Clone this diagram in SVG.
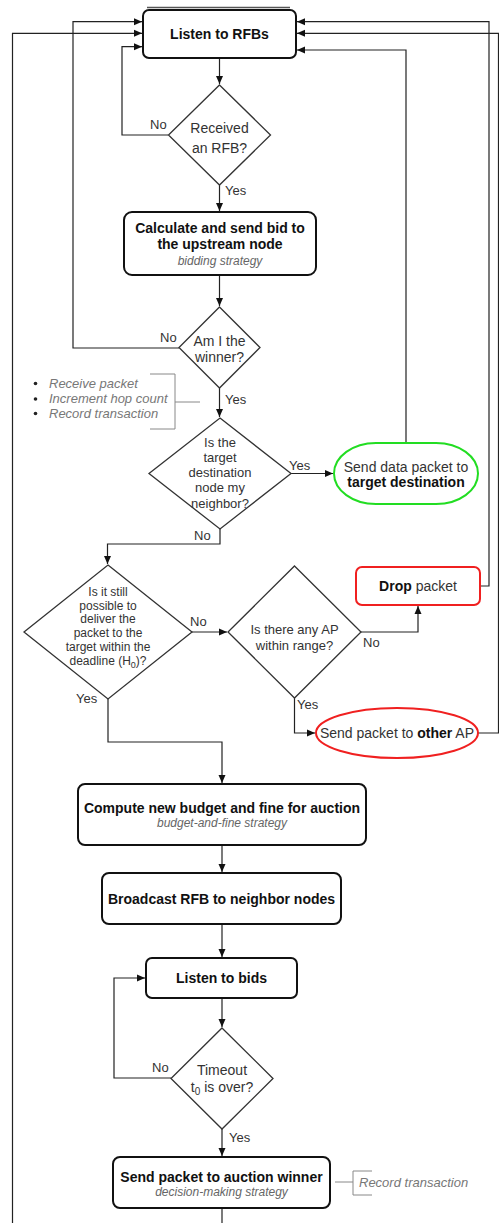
<svg xmlns="http://www.w3.org/2000/svg" width="499" height="1223" viewBox="0 0 499 1223">
<defs>
<marker id="ah" markerUnits="userSpaceOnUse" markerWidth="8" markerHeight="8" refX="8" refY="4" orient="auto">
<path d="M0,0.5 L8,4 L0,7.5 z" fill="#111"/>
</marker>
<style>
.box{fill:#fff;stroke:#111;stroke-width:2}
.red{fill:#fff;stroke:#f02020;stroke-width:2}
.grn{fill:#fff;stroke:#22dd22;stroke-width:2}
.dia{fill:#fff;stroke:#333;stroke-width:1.3}
.con path{fill:none;stroke:#222;stroke-width:1.2;marker-end:url(#ah)}
.con path.nm{marker-end:none}
text{font-family:"Liberation Sans",Arial,sans-serif}
.b{font-size:14px;font-weight:bold;fill:#111;text-anchor:middle}
.d14{font-size:14px;fill:#333;text-anchor:middle}
.d13{font-size:13px;fill:#333;text-anchor:middle}
.d12{font-size:12px;fill:#333;text-anchor:middle}
.it{font-size:12px;font-style:italic;fill:#666;text-anchor:middle}
.it13{font-size:13px;font-style:italic;fill:#777}
.lbl{font-size:13px;fill:#333}
.brk{fill:none;stroke:#888;stroke-width:1}
</style>
</defs>
<rect width="499" height="1223" fill="#fff"/>

<g class="con" id="connectors">
<path d="M219.5,58 V84"/>
<path d="M168,135 H122 V46.7 H142"/>
<path d="M219.5,185 V211"/>
<path d="M219.5,275 V306"/>
<path d="M179,348 H73 V21.7 H142"/>
<path d="M219.5,388 V417"/>
<path d="M291,473.5 H333"/>
<path d="M406,443 V50 H297"/>
<path d="M220,529 V544 H107.5 V564"/>
<path d="M192,632 H227"/>
<path d="M361,632 H418 V606"/>
<path d="M480,586 H489 V21.7 H297"/>
<path d="M294.5,698 V733 H315"/>
<path d="M478,733 H498.5 V33.3 H297"/>
<path d="M108,699 V742 H222 V783"/>
<path d="M222,845 V872"/>
<path d="M222,924 V957"/>
<path d="M222,998 V1027"/>
<path d="M171,1078 H114 V978 H145"/>
<path d="M222,1129 V1156"/>
<path class="nm" d="M222,1208 V1223"/>
<path d="M12.5,1223 V33.3 H142"/>
</g>

<g id="listen-rfbs">
<path d="M147,7.5 H290" fill="none" stroke="#555" stroke-width="1.5"/>
<rect class="box" x="143" y="10" width="153" height="48" rx="6"/>
<text class="b" x="219.5" y="39">Listen to RFBs</text>
</g>

<g id="received-rfb">
<polygon class="dia" points="219.5,85 270.5,135 219.5,185 168.5,135"/>
<text class="d14" x="219.5" y="133">Received</text>
<text class="d14" x="219.5" y="153">an RFB?</text>
<text class="lbl" x="150" y="128.5">No</text>
<text class="lbl" x="225" y="194.5">Yes</text>
</g>

<g id="calc-bid">
<rect class="box" x="124" y="212" width="192" height="63" rx="8"/>
<text class="b" x="220" y="233">Calculate and send bid to</text>
<text class="b" x="220" y="249">the upstream node</text>
<text class="it" x="220" y="265">bidding strategy</text>
</g>

<g id="am-i-winner">
<polygon class="dia" points="219.5,307 260,347.5 219.5,388 179,347.5"/>
<text class="d14" x="219.5" y="346">Am I the</text>
<text class="d14" x="219.5" y="362">winner?</text>
<text class="lbl" x="160" y="341.5">No</text>
<text class="lbl" x="225" y="403.5">Yes</text>
</g>

<g id="receive-notes">
<path class="brk" d="M150,374 H175 V429 H150 M175,402 H200"/>
<circle cx="35.5" cy="383.5" r="1.8" fill="#222"/>
<circle cx="35.5" cy="399" r="1.8" fill="#222"/>
<circle cx="35.5" cy="413.5" r="1.8" fill="#222"/>
<text class="it13" x="49" y="387.5">Receive packet</text>
<text class="it13" x="49" y="403">Increment hop count</text>
<text class="it13" x="49" y="417.5">Record transaction</text>
</g>

<g id="neighbor">
<polygon class="dia" points="220,418 291,473.5 220,529 149,473.5"/>
<text class="d13" x="220" y="446.5">Is the</text>
<text class="d13" x="220" y="461.5">target</text>
<text class="d13" x="220" y="476.5">destination</text>
<text class="d13" x="220" y="492">node my</text>
<text class="d13" x="220" y="507.5">neighbor?</text>
<text class="lbl" x="289" y="470">Yes</text>
<text class="lbl" x="194" y="539.5">No</text>
</g>

<g id="send-target">
<rect class="grn" x="334" y="443" width="144" height="61" rx="42" ry="30.5"/>
<text class="d14" x="406" y="471.5">Send data packet to</text>
<text class="b" x="406" y="487">target destination</text>
</g>

<g id="still-possible">
<polygon class="dia" points="108,565 192,632 108,699 24,632"/>
<text class="d12" x="108" y="596">Is it still</text>
<text class="d12" x="108" y="609.5">possible to</text>
<text class="d12" x="108" y="623">deliver the</text>
<text class="d12" x="108" y="637">packet to the</text>
<text class="d12" x="108" y="651">target within the</text>
<text class="d12" x="108" y="665">deadline (H<tspan font-size="9" dy="3">0</tspan><tspan dy="-3">)?</tspan></text>
<text class="lbl" x="190" y="626">No</text>
<text class="lbl" x="76" y="702.5">Yes</text>
</g>

<g id="any-ap">
<polygon class="dia" points="294.5,566 361,632 294.5,698 228,632"/>
<text class="d13" x="294.5" y="633.5">Is there any AP</text>
<text class="d13" x="294.5" y="649.5">within range?</text>
<text class="lbl" x="363" y="646.5">No</text>
<text class="lbl" x="297" y="708.5">Yes</text>
</g>

<g id="drop-packet">
<rect class="red" x="356" y="567" width="124" height="38" rx="6"/>
<text class="d14" x="418" y="591"><tspan font-weight="bold" fill="#111">Drop</tspan> packet</text>
</g>

<g id="other-ap">
<ellipse class="red" cx="397" cy="733" rx="81" ry="25"/>
<text class="d14" x="397" y="738">Send packet to <tspan font-weight="bold" fill="#111">other</tspan> AP</text>
</g>

<g id="compute-budget">
<rect class="box" x="78" y="784" width="288" height="61" rx="7"/>
<text class="b" x="222" y="813">Compute new budget and fine for auction</text>
<text class="it" x="222" y="827">budget-and-fine strategy</text>
</g>

<g id="broadcast">
<rect class="box" x="102" y="873" width="239" height="51" rx="7"/>
<text class="b" x="221.5" y="904">Broadcast RFB to neighbor nodes</text>
</g>

<g id="listen-bids">
<rect class="box" x="146" y="958" width="151" height="40" rx="6"/>
<text class="b" x="221.5" y="983">Listen to bids</text>
</g>

<g id="timeout">
<polygon class="dia" points="222,1028 273,1078.5 222,1129 171,1078.5"/>
<text class="d14" x="222" y="1075">Timeout</text>
<text class="d14" x="222" y="1092">t<tspan font-size="10" dy="3">0</tspan><tspan dy="-3"> is over?</tspan></text>
<text class="lbl" x="152" y="1072">No</text>
<text class="lbl" x="229" y="1141.5">Yes</text>
</g>

<g id="send-winner">
<rect class="box" x="113" y="1157" width="217" height="51" rx="7"/>
<text class="b" x="221.5" y="1182">Send packet to auction winner</text>
<text class="it" x="221.5" y="1196">decision-making strategy</text>
</g>

<g id="record-note">
<path class="brk" d="M335,1182 H353 M372,1171 H353 V1195 H372"/>
<text class="it13" x="359" y="1186.5">Record transaction</text>
</g>
</svg>
